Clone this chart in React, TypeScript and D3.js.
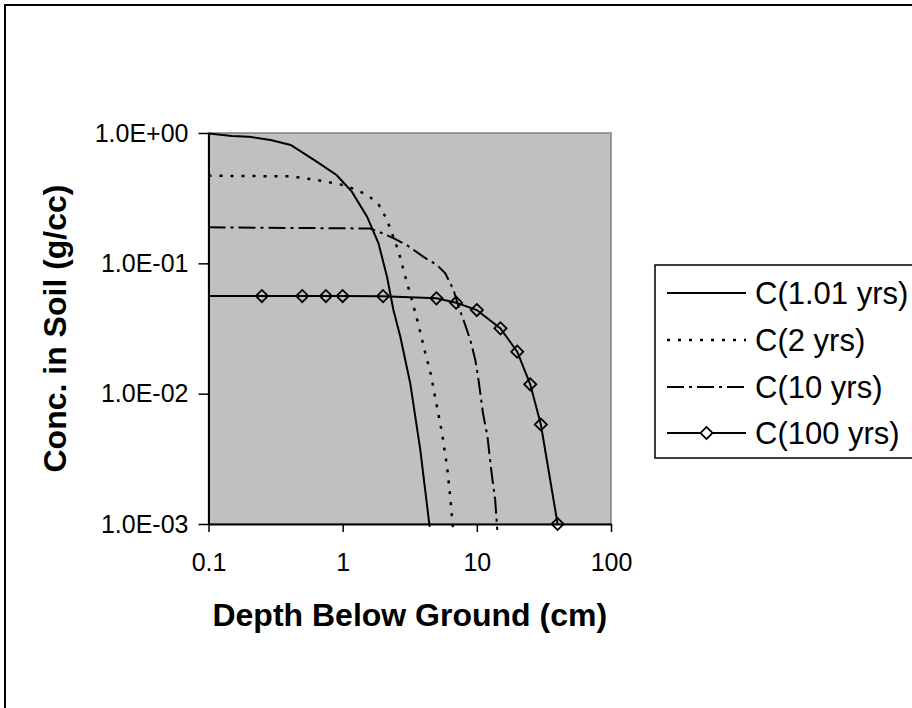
import React, { useEffect, useRef } from 'react';
import * as d3 from 'd3';

// depth (cm) and concentration (g/cc), one pair of arrays per curve
const depth1yr = [0.1, 0.15, 0.2, 0.29, 0.41, 0.64, 0.9, 1.17, 1.52, 1.85, 2.14, 2.39, 2.69, 3.19, 3.79, 4.45];
const conc1yr = [0.99, 0.95, 0.937, 0.884, 0.809, 0.603, 0.476, 0.355, 0.228, 0.1425, 0.0789, 0.0438, 0.0273, 0.012, 0.0037, 0.00095];

const depth2yr = [0.1, 0.41, 0.64, 1.01, 1.28, 1.56, 1.85, 2.08, 2.26, 2.61, 2.93, 3.28, 3.68, 4.13, 4.5, 5.05, 5.5, 6.0, 6.34, 6.65];
const conc2yr = [0.47, 0.465, 0.436, 0.399, 0.365, 0.329, 0.284, 0.228, 0.186, 0.123, 0.079, 0.0523, 0.0336, 0.0204, 0.0147, 0.0079, 0.005, 0.00275, 0.0016, 0.0009];

const depth10yr = [0.1, 1.6, 1.85, 2.39, 3.01, 4.01, 5.05, 5.82, 6.71, 7.31, 8.2, 8.94, 9.75, 10.3, 11.1, 12.0, 12.8, 13.7, 14.2];
const conc10yr = [0.189, 0.185, 0.175, 0.156, 0.138, 0.112, 0.097, 0.0838, 0.0624, 0.0464, 0.0336, 0.0258, 0.0181, 0.0127, 0.0071, 0.0047, 0.0026, 0.00153, 0.0009];

const depth100yr = [0.1, 0.25, 0.5, 0.75, 1, 2, 5, 7, 10, 15, 20, 25, 30, 40];
const conc100yr = [0.0561, 0.0561, 0.0561, 0.0561, 0.0561, 0.056, 0.0539, 0.0499, 0.0438, 0.0317, 0.021, 0.0118, 0.0058, 0.001];

const seriesNames = ['C(1.01 yrs)', 'C(2 yrs)', 'C(10 yrs)', 'C(100 yrs)'];
const xTicks = [0.1, 1, 10, 100];
const yTicks = [1, 0.1, 0.01, 0.001];

const width = 912;
const height = 708;
const margin = { left: 208.5, right: 301, top: 133, bottom: 184 };
const font = '"Liberation Sans", Arial, sans-serif';

const styles = [
    { dash: null, width: 2, marker: false },
    { dash: '3 8', width: 2.5, marker: false },
    { dash: '17 5 3 5', width: 2, marker: false },
    { dash: null, width: 2, marker: true }
];

function expFormat(d: number) {
    const [m, e] = d.toExponential(1).split('e');
    const n = +e;
    return `${m}E${n < 0 ? '-' : '+'}${String(Math.abs(n)).padStart(2, '0')}`;
}

export default function App() {
    const xAxisRef = useRef<SVGGElement>(null);
    const yAxisRef = useRef<SVGGElement>(null);

    const drawWidth = width - margin.left - margin.right;
    const drawHeight = height - margin.top - margin.bottom;

    const xScale = d3.scaleLog().domain([0.1, 100]).range([0, drawWidth]);
    const yScale = d3.scaleLog().domain([0.001, 1]).range([drawHeight, 0]);

    const data = [
        d3.zip(depth1yr, conc1yr),
        d3.zip(depth2yr, conc2yr),
        d3.zip(depth10yr, conc10yr),
        d3.zip(depth100yr, conc100yr)
    ];

    const line = d3.line<number[]>()
        .x((d) => xScale(d[0]))
        .y((d) => yScale(d[1]));

    const diamond = d3.symbol().type(d3.symbolSquare).size(74)();

    useEffect(() => {
        const xAxis = d3.axisBottom(xScale)
            .tickValues(xTicks)
            .tickFormat((d) => String(d))
            .tickSize(8)
            .tickSizeOuter(0)
            .tickPadding(21);
        const yAxis = d3.axisLeft(yScale)
            .tickValues(yTicks)
            .tickFormat((d) => expFormat(+d))
            .tickSize(10)
            .tickSizeOuter(0)
            .tickPadding(10);

        [[xAxisRef.current, xAxis], [yAxisRef.current, yAxis]].forEach(([node, axis]: any) => {
            const g = d3.select(node).call(axis);
            g.selectAll('text')
                .attr('font-family', font)
                .attr('font-size', 25)
                .attr('fill', '#000');
            g.selectAll('line').attr('stroke', '#000').attr('stroke-width', 1.5);
            g.select('.domain').attr('stroke', '#000').attr('stroke-width', 2);
        });
    });

    const legendRows = [293, 340, 387, 433];

    return (
        <svg width={width} height={height} style={{ position: 'absolute', left: 0, top: 0 }}>
            <rect x={0} y={0} width={width} height={height} fill="#fff" />
            <rect x={5} y={5} width={1000} height={1000} fill="none" stroke="#000" strokeWidth={2} />

            <g transform={`translate(${margin.left}, ${margin.top})`}>
                <rect x={0} y={0} width={drawWidth} height={drawHeight}
                    fill="#c0c0c0" stroke="#808080" strokeWidth={1.5} />
                {data.map((pts, i) => (
                    <path key={i} d={line(pts) || ''} fill="none" stroke="#000"
                        strokeWidth={styles[i].width}
                        strokeDasharray={styles[i].dash || undefined} />
                ))}
                {data.map((pts, i) => styles[i].marker && pts
                    .filter((d) => d[0] > 0.1)
                    .map((d, j) => (
                        <path key={`m${i}-${j}`} d={diamond || ''}
                            transform={`translate(${xScale(d[0])}, ${yScale(d[1])}) rotate(45)`}
                            fill="none" stroke="#000" strokeWidth={1.8} />
                    )))}
            </g>

            {/* Axes */}
            <g ref={xAxisRef} transform={`translate(${margin.left}, ${height - margin.bottom})`} />
            <g ref={yAxisRef} transform={`translate(${margin.left}, ${margin.top})`} />

            <text x={margin.left + drawWidth / 2} y={626} textAnchor="middle"
                fontFamily={font} fontSize={32} fontWeight="bold">Depth Below Ground (cm)</text>
            <text transform={`translate(66, ${margin.top + drawHeight / 2}) rotate(-90)`} textAnchor="middle"
                fontFamily={font} fontSize={32} fontWeight="bold">Conc. in Soil (g/cc)</text>

            {/* Legend */}
            <rect x={655} y={265} width={300} height={193} fill="#fff" stroke="#000" strokeWidth={1.5} />
            {seriesNames.map((name, i) => (
                <g key={name} transform={`translate(667, ${legendRows[i]})`}>
                    <line x1={0} x2={79} y1={0} y2={0} stroke="#000"
                        strokeWidth={styles[i].width}
                        strokeDasharray={styles[i].dash || undefined} />
                    {styles[i].marker &&
                        <path d={diamond || ''} transform="translate(39.5, 0) rotate(45)"
                            fill="#fff" stroke="#000" strokeWidth={1.8} />}
                    <text x={88} y={0} dy="0.35em" fontFamily={font} fontSize={31}>{name}</text>
                </g>
            ))}
        </svg>
    );
}
